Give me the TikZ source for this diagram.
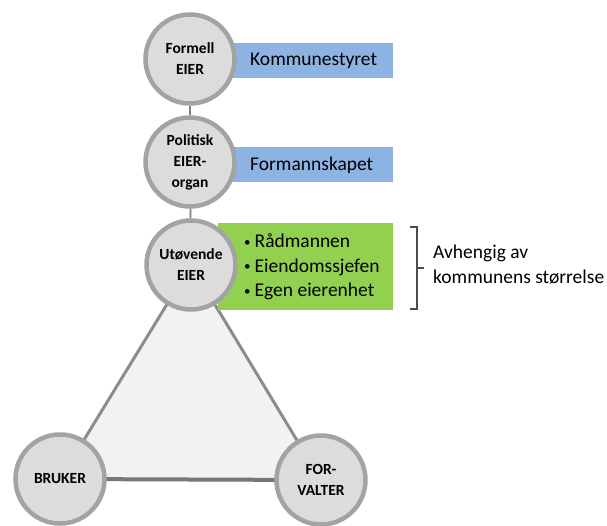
\documentclass[tikz,border=0pt]{standalone}
\usepackage{fontspec}
\setmainfont{Carlito}
\usetikzlibrary{backgrounds}
\definecolor{ringgray}{HTML}{A3A3A3}
\definecolor{discfill}{HTML}{DCDCDC}
\definecolor{trifill}{HTML}{F2F2F2}
\definecolor{triline}{HTML}{8C8C8C}
\definecolor{boxblue}{HTML}{8DB3E2}
\definecolor{boxgreen}{HTML}{92D050}
\definecolor{linkgray}{HTML}{7F7F7F}
\newcommand{\smallbullet}{\raisebox{1.5pt}{\fontsize{13}{13}\selectfont\textbullet}\hspace{4pt}}
\begin{document}
\begin{tikzpicture}[x=1pt,y=-1pt,
  disc/.style={circle, draw=ringgray, fill=discfill, line width=4.5pt,
    minimum size=89pt, inner sep=0pt, align=center,
    font=\fontsize{15.5}{21}\selectfont\bfseries},
  panel/.style={inner sep=0pt, anchor=north west},
  lbl/.style={inner sep=0pt, anchor=west, font=\fontsize{19.5}{24}\selectfont},
  link/.style={draw=linkgray, line width=1.6pt},
  side/.style={draw=triline, line width=3pt, fill=trifill, line join=round},
  brace/.style={draw=black!70, line width=1.2pt}]
\useasboundingbox (0,0) rectangle (607,525);

% owner chain and the triangle's corners
\node[disc] (formell) at (190,59) {Formell\\EIER};
\node[disc] (politisk) at (190,162) {Politisk\\EIER-\\organ};
\node[disc] (utov) at (191,265) {Utøvende\\EIER};
\node[disc] (bruker) at (60,479) {BRUKER};
\node[disc] (forv) at (321,480) {FOR-\\VALTER};

% links between the owner levels
\draw[link] (formell) -- (politisk);
\draw[link] (politisk) -- (utov);

\begin{scope}[on background layer]
  % triangle between owner, user and manager
  \path[side] (utov.center) -- (bruker.center) -- (forv.center) -- cycle;
  \draw[draw=triline!85!black, line width=4pt] (bruker.center) -- (forv.center);
  % coloured panels behind the discs
  \node[panel, fill=boxblue, minimum width=178pt, minimum height=35pt] (kbox) at (215,43) {};
  \node[panel, fill=boxblue, minimum width=178pt, minimum height=35pt] (fbox) at (215,147) {};
  \node[panel, fill=boxgreen, minimum width=175pt, minimum height=87pt] (gbox) at (218,223) {};
\end{scope}

\node[lbl] (ktxt) at (250,61) {Kommunestyret};
\node[lbl] (ftxt) at (250,165) {Formannskapet};
\node[lbl, align=left, font=\fontsize{19.5}{24.5}\selectfont] (gtxt) at (244,267)
  {\smallbullet Rådmannen\\\smallbullet Eiendomssjefen\\\smallbullet Egen eierenhet};

% bracket with its note
\coordinate (btop) at (417,227);
\coordinate (bbot) at (417,309);
\coordinate (bmid) at (417,268);
\coordinate (bout) at (424,268);
\draw[brace] ([xshift=-7pt]btop) -- (btop) -- (bbot) -- ([xshift=-7pt]bbot);
\draw[brace] (bmid) -- (bout);
\node[lbl] (note1) at (433,253) {Avhengig av};
\node[lbl] (note2) at (433,277) {kommunens størrelse};
\end{tikzpicture}
\end{document}
